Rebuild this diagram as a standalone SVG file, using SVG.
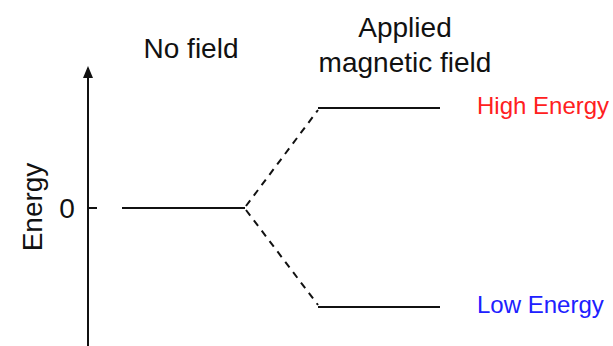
<svg xmlns="http://www.w3.org/2000/svg" width="613" height="346" viewBox="0 0 613 346">
  <style>
    text { font-family: "Liberation Sans", Arial, sans-serif; fill: #111; }
    .head { font-size: 28px; }
    .side { font-size: 24px; }
    .lvl { stroke: #111; stroke-width: 2; fill: none; }
    .dash { stroke: #111; stroke-width: 2; stroke-dasharray: 7 6; fill: none; }
  </style>
  <defs>
    <marker id="arrow" markerWidth="12" markerHeight="10" refX="10" refY="5" orient="auto" markerUnits="userSpaceOnUse">
      <path d="M0,0 L12,5 L0,10 Z" fill="#111"/>
    </marker>
  </defs>
  <rect width="613" height="346" fill="#fff"/>

  <!-- energy axis -->
  <g id="axis">
    <line x1="88" y1="346" x2="88" y2="68" class="lvl" marker-end="url(#arrow)"/>
    <line x1="88" y1="208" x2="97" y2="208" class="lvl"/>
    <text x="67" y="218" class="head" text-anchor="middle">0</text>
    <text transform="translate(42,207) rotate(-90)" class="head" text-anchor="middle">Energy</text>
  </g>

  <!-- headings -->
  <g id="headings">
    <text x="191" y="58" class="head" text-anchor="middle">No field</text>
    <text x="405" y="37" class="head" text-anchor="middle">Applied</text>
    <text x="405" y="72" class="head" text-anchor="middle">magnetic field</text>
  </g>

  <!-- energy levels -->
  <g id="level-zero">
    <line x1="122" y1="208" x2="245" y2="208" class="lvl"/>
  </g>
  <g id="level-high">
    <line x1="318" y1="108" x2="440" y2="108" class="lvl"/>
    <text x="477" y="114" class="side" style="fill:#ff2020">High Energy</text>
  </g>
  <g id="level-low">
    <line x1="318" y1="307" x2="440" y2="307" class="lvl"/>
    <text x="477" y="313" class="side" style="fill:#2020ff">Low Energy</text>
  </g>

  <!-- splitting connectors -->
  <g id="connectors">
    <line x1="246" y1="206" x2="318" y2="110" class="dash"/>
    <line x1="246" y1="210" x2="318" y2="305" class="dash"/>
  </g>
</svg>
